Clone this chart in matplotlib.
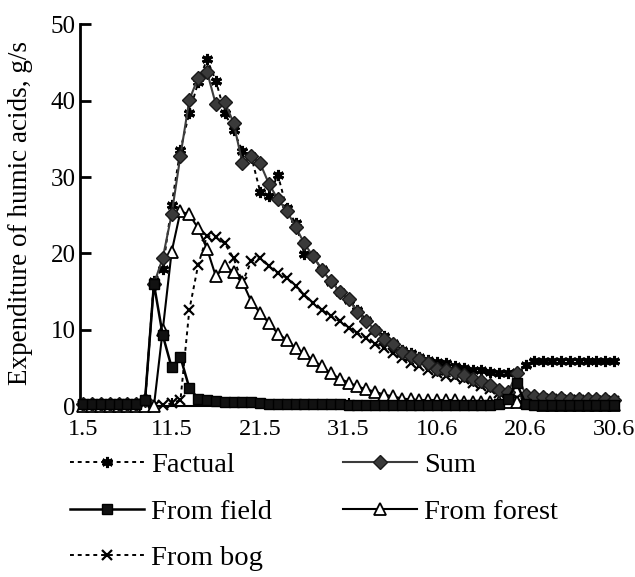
import numpy as np
import matplotlib
matplotlib.use("Agg")
import matplotlib.pyplot as plt

plt.rcParams['font.family'] = ['Liberation Serif', 'DejaVu Serif']

# dates 1.5 ... 30.6, one point per day
tick_labels = ['1.5', '11.5', '21.5', '31.5', '10.6', '20.6', '30.6']

factual = [0.3, 0.3, 0.3, 0.3, 0.3, 0.3, 0.3, 0.5, 16.4, 17.9,
           26.4, 33.6, 38.4, 42.4, 45.4, 42.6, 38.4, 36.1, 33.4, 32.7,
           28.1, 27.5, 30.3, 25.9, 24.0, 19.9, 19.6, 17.9, 16.3, 15.0,
           13.9, 12.6, 11.3, 10.0, 9.2, 8.3, 7.4, 6.9, 6.4, 6.0,
           5.8, 5.6, 5.3, 5.0, 4.8, 4.7, 4.5, 4.4, 4.4, 4.5,
           5.4, 5.9, 5.9, 5.9, 5.9, 5.9, 5.9, 5.9, 5.9, 5.9, 5.9]

total = [0.3, 0.3, 0.3, 0.3, 0.3, 0.3, 0.3, 0.8, 16.0, 19.4,
         25.1, 32.8, 40.1, 43.0, 43.8, 39.5, 39.8, 37.1, 31.8, 32.8,
         31.8, 29.1, 27.1, 25.6, 23.5, 21.3, 19.6, 17.8, 16.4, 15.0,
         14.0, 12.3, 11.1, 10.0, 8.8, 8.2, 7.1, 6.6, 6.2, 5.7,
         4.9, 4.7, 4.5, 4.1, 3.6, 3.3, 2.8, 2.1, 1.8, 4.3,
         1.5, 1.3, 1.2, 1.1, 1.1, 1.0, 1.0, 0.9, 0.9, 0.9, 0.8]

field = [0.3, 0.3, 0.3, 0.3, 0.3, 0.3, 0.3, 0.8, 16.0, 9.3,
         5.1, 6.4, 2.4, 1.0, 0.8, 0.7, 0.6, 0.6, 0.5, 0.5,
         0.4, 0.3, 0.3, 0.3, 0.3, 0.3, 0.3, 0.3, 0.3, 0.3,
         0.2, 0.2, 0.2, 0.2, 0.2, 0.2, 0.2, 0.2, 0.2, 0.2,
         0.2, 0.2, 0.2, 0.2, 0.2, 0.2, 0.2, 0.3, 1.0, 3.0,
         0.3, 0.2, 0.2, 0.2, 0.2, 0.2, 0.2, 0.2, 0.2, 0.2, 0.2]

forest = [0.0, 0.0, 0.0, 0.0, 0.0, 0.0, 0.0, 0.0, 0.0, 10.0,
          20.2, 25.5, 25.1, 23.3, 20.6, 17.0, 18.3, 17.6, 16.3, 13.7,
          12.2, 10.9, 9.5, 8.7, 7.6, 6.9, 6.0, 5.2, 4.3, 3.6,
          3.1, 2.6, 2.2, 1.9, 1.5, 1.3, 1.0, 0.9, 0.8, 0.8,
          0.8, 0.8, 0.8, 0.5, 0.5, 0.5, 0.5, 0.5, 0.5, 0.5,
          0.5, 0.5, 0.2, 0.2, 0.2, 0.2, 0.2, 0.2, 0.2, 0.2, 0.2]

bog = [0.0, 0.0, 0.0, 0.0, 0.0, 0.0, 0.0, 0.0, 0.0, 0.1,
       0.4, 0.8, 12.6, 18.5, 22.3, 22.1, 21.3, 19.4, 16.2, 19.0,
       19.4, 18.3, 17.5, 16.8, 15.7, 14.6, 13.5, 12.6, 11.8, 11.1,
       10.3, 9.6, 8.9, 8.2, 7.6, 7.0, 6.3, 5.7, 5.2, 4.8,
       4.3, 4.0, 3.8, 3.5, 3.0, 2.7, 2.3, 1.7, 1.1, 1.1,
       1.0, 0.9, 0.9, 0.9, 0.8, 0.8, 0.8, 0.7, 0.7, 0.7, 0.7]

x = np.arange(len(factual))

fig = plt.figure(figsize=(6.35, 5.77), dpi=100)
ax = fig.add_axes([0.126, 0.296, 0.846, 0.662])

dots = (0, (2, 2))
l_fact, = ax.plot(x, factual, color='black', lw=1.4, ls=dots, marker=(6, 2, 0),
                  ms=8, mew=2.2, mec='black', zorder=3, clip_on=False)
l_bog, = ax.plot(x, bog, color='black', lw=1.4, ls=dots, marker='x',
                 ms=7, mew=1.6, mec='black', zorder=3, clip_on=False)
l_forest, = ax.plot(x, forest, color='black', lw=1.5, marker='^', ms=9,
                    mfc='white', mec='black', mew=1.3, zorder=4, clip_on=False)
l_sum, = ax.plot(x, total, color='#3c3c3c', lw=1.5, marker='D', ms=7.5,
                 mfc='#3a3a3a', mec='#1a1a1a', mew=1.0, zorder=4.5, clip_on=False)
l_field, = ax.plot(x, field, color='black', lw=1.8, marker='s', ms=7.5,
                   mfc='#111111', mec='black', zorder=5, clip_on=False)

ax.set_xlim(-0.35, 60.35)
ax.set_ylim(0, 50)
ax.set_xticks(np.arange(0, 61, 10))
ax.set_xticklabels(tick_labels)
ax.set_yticks(np.arange(0, 51, 10))

ax.spines['top'].set_visible(False)
ax.spines['right'].set_visible(False)
ax.spines['left'].set_linewidth(2)
ax.spines['bottom'].set_linewidth(1.5)
ax.tick_params(axis='y', direction='in', length=8, width=2, labelsize=18, pad=3)
ax.tick_params(axis='x', direction='in', length=6, width=1.5, labelsize=17.5, pad=9)

ax.set_ylabel('Expenditure of humic acids, g/s', fontsize=19.5)
ax.yaxis.set_label_coords(-0.088, 0.505)

fig.legend([l_fact, l_field, l_bog, l_sum, l_forest],
           ['Factual', 'From field', 'From bog', 'Sum', 'From forest'],
           ncol=2, loc='upper left', bbox_to_anchor=(0.11, 0.216),
           frameon=False, fontsize=20.5, handlelength=2.6, handletextpad=0.25,
           columnspacing=2.5, labelspacing=0.72, borderaxespad=0, borderpad=0)

fig.savefig('out.png', dpi=100)
